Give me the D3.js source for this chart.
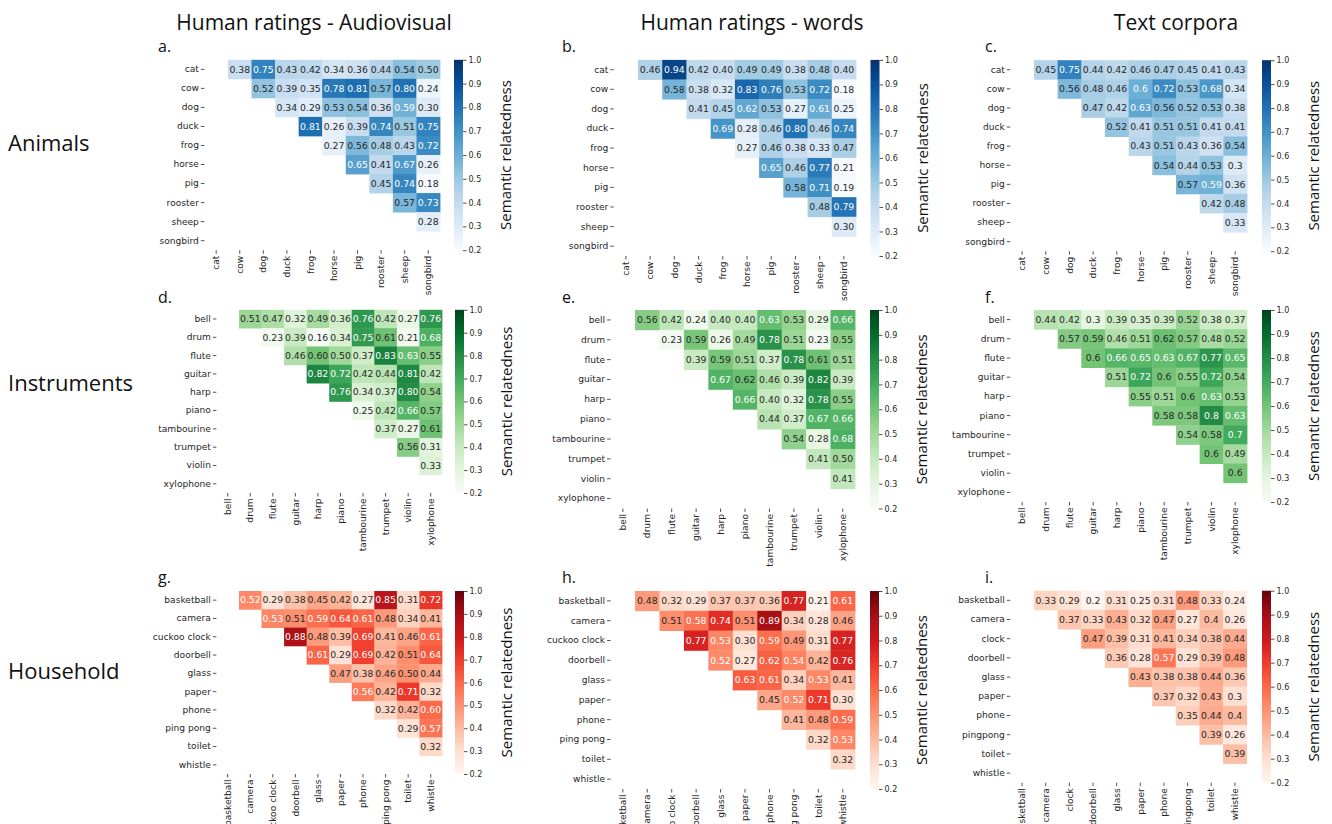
<!DOCTYPE html>
<html>
<head>
<meta charset="utf-8">
<script src="https://cdn.jsdelivr.net/npm/d3@7"></script>
<style>
  body { margin: 0; background: #fff; }
  svg { display: block; }
  .tick text { fill: #262626; font-family: "DejaVu Sans", sans-serif; }
  .tick line { stroke: #262626; stroke-width: 0.8; }
</style>
</head>
<body>
<svg id="chart" width="1332" height="824"></svg>
<script>
// category labels
const animals = ["cat", "cow", "dog", "duck", "frog", "horse", "pig", "rooster", "sheep", "songbird"];
const instruments = ["bell", "drum", "flute", "guitar", "harp", "piano", "tambourine", "trumpet", "violin", "xylophone"];
const household = ["basketball", "camera", "cuckoo clock", "doorbell", "glass", "paper", "phone", "ping pong", "toilet", "whistle"];
const householdText = ["basketball", "camera", "clock", "doorbell", "glass", "paper", "phone", "pingpong", "toilet", "whistle"];

// upper triangle, row i holds the pairs (i, i+1..)
const animalsAV = [
  [0.38, 0.75, 0.43, 0.42, 0.34, 0.36, 0.44, 0.54, 0.50],
  [0.52, 0.39, 0.35, 0.78, 0.81, 0.57, 0.80, 0.24],
  [0.34, 0.29, 0.53, 0.54, 0.36, 0.59, 0.30],
  [0.81, 0.26, 0.39, 0.74, 0.51, 0.75],
  [0.27, 0.56, 0.48, 0.43, 0.72],
  [0.65, 0.41, 0.67, 0.26],
  [0.45, 0.74, 0.18],
  [0.57, 0.73],
  [0.28]
];
const animalsWords = [
  [0.46, 0.94, 0.42, 0.40, 0.49, 0.49, 0.38, 0.48, 0.40],
  [0.58, 0.38, 0.32, 0.83, 0.76, 0.53, 0.72, 0.18],
  [0.41, 0.45, 0.62, 0.53, 0.27, 0.61, 0.25],
  [0.69, 0.28, 0.46, 0.80, 0.46, 0.74],
  [0.27, 0.46, 0.38, 0.33, 0.47],
  [0.65, 0.46, 0.77, 0.21],
  [0.58, 0.71, 0.19],
  [0.48, 0.79],
  [0.30]
];
const animalsText = [
  [0.45, 0.75, 0.44, 0.42, 0.46, 0.47, 0.45, 0.41, 0.43],
  [0.56, 0.48, 0.46, 0.6, 0.72, 0.53, 0.68, 0.34],
  [0.47, 0.42, 0.63, 0.56, 0.52, 0.53, 0.38],
  [0.52, 0.41, 0.51, 0.51, 0.41, 0.41],
  [0.43, 0.51, 0.43, 0.36, 0.54],
  [0.54, 0.44, 0.53, 0.3],
  [0.57, 0.59, 0.36],
  [0.42, 0.48],
  [0.33]
];
const instrumentsAV = [
  [0.51, 0.47, 0.32, 0.49, 0.36, 0.76, 0.42, 0.27, 0.76],
  [0.23, 0.39, 0.16, 0.34, 0.75, 0.61, 0.21, 0.68],
  [0.46, 0.60, 0.50, 0.37, 0.83, 0.63, 0.55],
  [0.82, 0.72, 0.42, 0.44, 0.81, 0.42],
  [0.76, 0.34, 0.37, 0.80, 0.54],
  [0.25, 0.42, 0.66, 0.57],
  [0.37, 0.27, 0.61],
  [0.56, 0.31],
  [0.33]
];
const instrumentsWords = [
  [0.56, 0.42, 0.24, 0.40, 0.40, 0.63, 0.53, 0.29, 0.66],
  [0.23, 0.59, 0.26, 0.49, 0.78, 0.51, 0.23, 0.55],
  [0.39, 0.59, 0.51, 0.37, 0.78, 0.61, 0.51],
  [0.67, 0.62, 0.46, 0.39, 0.82, 0.39],
  [0.66, 0.40, 0.32, 0.78, 0.55],
  [0.44, 0.37, 0.67, 0.66],
  [0.54, 0.28, 0.68],
  [0.41, 0.50],
  [0.41]
];
const instrumentsText = [
  [0.44, 0.42, 0.3, 0.39, 0.35, 0.39, 0.52, 0.38, 0.37],
  [0.57, 0.59, 0.46, 0.51, 0.62, 0.57, 0.48, 0.52],
  [0.6, 0.66, 0.65, 0.63, 0.67, 0.77, 0.65],
  [0.51, 0.72, 0.6, 0.55, 0.72, 0.54],
  [0.55, 0.51, 0.6, 0.63, 0.53],
  [0.58, 0.58, 0.8, 0.63],
  [0.54, 0.58, 0.7],
  [0.6, 0.49],
  [0.6]
];
const householdAV = [
  [0.52, 0.29, 0.38, 0.45, 0.42, 0.27, 0.85, 0.31, 0.72],
  [0.53, 0.51, 0.59, 0.64, 0.61, 0.48, 0.34, 0.41],
  [0.88, 0.48, 0.39, 0.69, 0.41, 0.46, 0.61],
  [0.61, 0.29, 0.69, 0.42, 0.51, 0.64],
  [0.47, 0.38, 0.46, 0.50, 0.44],
  [0.56, 0.42, 0.71, 0.32],
  [0.32, 0.42, 0.60],
  [0.29, 0.57],
  [0.32]
];
const householdWords = [
  [0.48, 0.32, 0.29, 0.37, 0.37, 0.36, 0.77, 0.21, 0.61],
  [0.51, 0.58, 0.74, 0.51, 0.89, 0.34, 0.28, 0.46],
  [0.77, 0.53, 0.30, 0.59, 0.49, 0.31, 0.77],
  [0.52, 0.27, 0.62, 0.54, 0.42, 0.76],
  [0.63, 0.61, 0.34, 0.53, 0.41],
  [0.45, 0.52, 0.71, 0.30],
  [0.41, 0.48, 0.59],
  [0.32, 0.53],
  [0.32]
];
const householdTextVals = [
  [0.33, 0.29, 0.2, 0.31, 0.25, 0.31, 0.48, 0.33, 0.24],
  [0.37, 0.33, 0.43, 0.32, 0.47, 0.27, 0.4, 0.26],
  [0.47, 0.39, 0.31, 0.41, 0.34, 0.38, 0.44],
  [0.36, 0.28, 0.57, 0.29, 0.39, 0.48],
  [0.43, 0.38, 0.38, 0.44, 0.36],
  [0.37, 0.32, 0.43, 0.3],
  [0.35, 0.44, 0.4],
  [0.39, 0.26],
  [0.39]
];

const colTitles = ["Human ratings - Audiovisual", "Human ratings - words", "Text corpora"];
const rowTitles = ["Animals", "Instruments", "Household"];
const cbarTicks = [0.2, 0.3, 0.4, 0.5, 0.6, 0.7, 0.8, 0.9, 1.0];
const cbarLabel = "Semantic relatedness";

const fixed2 = d3.format(".2f");
const general = v => String(v);

const panels = [
  {tag: "a.", labels: animals, values: animalsAV, scheme: d3.schemeBlues[9], fmt: fixed2},
  {tag: "b.", labels: animals, values: animalsWords, scheme: d3.schemeBlues[9], fmt: fixed2},
  {tag: "c.", labels: animals, values: animalsText, scheme: d3.schemeBlues[9], fmt: general},
  {tag: "d.", labels: instruments, values: instrumentsAV, scheme: d3.schemeGreens[9], fmt: fixed2},
  {tag: "e.", labels: instruments, values: instrumentsWords, scheme: d3.schemeGreens[9], fmt: fixed2},
  {tag: "f.", labels: instruments, values: instrumentsText, scheme: d3.schemeGreens[9], fmt: general},
  {tag: "g.", labels: household, values: householdAV, scheme: d3.schemeReds[9], fmt: fixed2},
  {tag: "h.", labels: household, values: householdWords, scheme: d3.schemeReds[9], fmt: fixed2},
  {tag: "i.", labels: householdText, values: householdTextVals, scheme: d3.schemeReds[9], fmt: general}
];

// axes boxes: x0,x1,y0,y1, colorbar left, letter position
const layout = [
  {x0: 204.4, x1: 440, y0: 59.8, y1: 250.2, cb: 454, lx: 158, ly: 52},
  {x0: 613.8, x1: 856, y0: 59.9, y1: 256, cb: 870.5, lx: 562, ly: 52},
  {x0: 1010.3, x1: 1247, y0: 60.2, y1: 251.2, cb: 1262, lx: 985, ly: 52},
  {x0: 216.4, x1: 442, y0: 309.8, y1: 493, cb: 455, lx: 158, ly: 303},
  {x0: 610.6, x1: 855, y0: 310, y1: 508.5, cb: 870, lx: 562, ly: 303},
  {x0: 1010.3, x1: 1247, y0: 310, y1: 502, cb: 1262, lx: 985, ly: 303},
  {x0: 216.4, x1: 442, y0: 591, y1: 774, cb: 455, lx: 158, ly: 583},
  {x0: 610.6, x1: 855, y0: 591, y1: 789, cb: 870, lx: 562, ly: 583},
  {x0: 1010.3, x1: 1246.7, y0: 590.7, y1: 782.7, cb: 1262, lx: 985, ly: 583}
];

const svg = d3.select("#chart");
const vmin = 0.2, vmax = 1.0;

// seaborn picks annotation colour from relative luminance
function lum(c) {
  const rgb = d3.rgb(c);
  const f = x => { x = x / 255; return x <= 0.03928 ? x / 12.92 : Math.pow((x + 0.055) / 1.055, 2.4); };
  return 0.2126 * f(rgb.r) + 0.7152 * f(rgb.g) + 0.0722 * f(rgb.b);
}

panels.forEach((p, idx) => {
  const L = layout[idx];
  const g = svg.append("g");

  const x = d3.scaleBand().domain(p.labels).range([L.x0, L.x1]);
  const y = d3.scaleBand().domain(p.labels).range([L.y0, L.y1]);
  const interp = d3.piecewise(d3.interpolateRgb, p.scheme);
  const color = d3.scaleSequential(interp).domain([vmin, vmax]).clamp(true);

  const cells = [];
  p.values.forEach((row, i) => row.forEach((v, k) => {
    cells.push({r: p.labels[i], c: p.labels[i + 1 + k], v: v});
  }));

  g.selectAll("rect.cell").data(cells).enter().append("rect")
    .attr("class", "cell")
    .attr("x", d => x(d.c))
    .attr("y", d => y(d.r))
    .attr("width", x.bandwidth() + 0.4)
    .attr("height", y.bandwidth() + 0.4)
    .attr("fill", d => color(d.v));

  g.selectAll("text.ann").data(cells).enter().append("text")
    .attr("class", "ann")
    .attr("x", d => x(d.c) + x.bandwidth() / 2)
    .attr("y", d => y(d.r) + y.bandwidth() / 2)
    .attr("dy", "0.35em")
    .attr("text-anchor", "middle")
    .style("font-family", "DejaVu Sans, sans-serif")
    .style("font-size", "9.3px")
    .attr("fill", d => lum(color(d.v)) > 0.408 ? "#262626" : "#ffffff")
    .text(d => p.fmt(d.v));

  // y axis
  const ya = g.append("g")
    .attr("transform", "translate(" + L.x0 + ",0)")
    .call(d3.axisLeft(y).tickSize(3.5).tickPadding(2));
  ya.select(".domain").remove();
  ya.selectAll("text").style("font-size", "9.1px");

  // x axis
  const xa = g.append("g")
    .attr("transform", "translate(0," + L.y1 + ")")
    .call(d3.axisBottom(x).tickSize(3.5).tickPadding(2));
  xa.select(".domain").remove();
  xa.selectAll("text")
    .style("font-size", "9.1px")
    .attr("transform", "rotate(-90)")
    .attr("text-anchor", "end")
    .attr("x", -5.5)
    .attr("y", 0)
    .attr("dy", "0.35em");

  // colorbar
  const gradId = "grad" + idx;
  const grad = svg.append("defs").append("linearGradient")
    .attr("id", gradId).attr("x1", 0).attr("y1", 1).attr("x2", 0).attr("y2", 0);
  d3.range(0, 1.0001, 0.05).forEach(t => {
    grad.append("stop").attr("offset", t).attr("stop-color", interp(t));
  });
  g.append("rect")
    .attr("x", L.cb).attr("y", L.y0)
    .attr("width", 9).attr("height", L.y1 - L.y0)
    .attr("fill", "url(#" + gradId + ")");

  const cy = d3.scaleLinear().domain([vmin, vmax]).range([L.y1, L.y0]);
  const ca = g.append("g")
    .attr("transform", "translate(" + (L.cb + 9) + ",0)")
    .call(d3.axisRight(cy).tickValues(cbarTicks).tickFormat(d3.format(".1f")).tickSize(3.5).tickPadding(2));
  ca.select(".domain").remove();
  ca.selectAll("text").style("font-size", "8px");

  g.append("text")
    .attr("transform", "translate(" + (L.cb + 52) + "," + ((L.y0 + L.y1) / 2) + ") rotate(-90)")
    .attr("text-anchor", "middle")
    .attr("dy", "0.35em")
    .style("font-family", "Open Sans, sans-serif")
    .style("font-size", "15px")
    .attr("fill", "#111")
    .text(cbarLabel);

  g.append("text")
    .attr("x", L.lx).attr("y", L.ly)
    .style("font-family", "Open Sans, sans-serif")
    .style("font-size", "16px")
    .attr("fill", "#111")
    .text(p.tag);
});

// column titles
const colX = [314, 752, 1176];
svg.selectAll("text.coltitle").data(colTitles).enter().append("text")
  .attr("class", "coltitle")
  .attr("x", (d, i) => colX[i]).attr("y", 30)
  .attr("text-anchor", "middle")
  .style("font-family", "Open Sans, sans-serif")
  .style("font-size", "21px")
  .attr("fill", "#111")
  .text(d => d);

// row titles
const rowY = [143, 383, 671];
svg.selectAll("text.rowtitle").data(rowTitles).enter().append("text")
  .attr("class", "rowtitle")
  .attr("x", 8).attr("y", (d, i) => rowY[i])
  .attr("dy", "0.35em")
  .style("font-family", "Open Sans, sans-serif")
  .style("font-size", "22px")
  .attr("fill", "#111")
  .text(d => d);
</script>
</body>
</html>
